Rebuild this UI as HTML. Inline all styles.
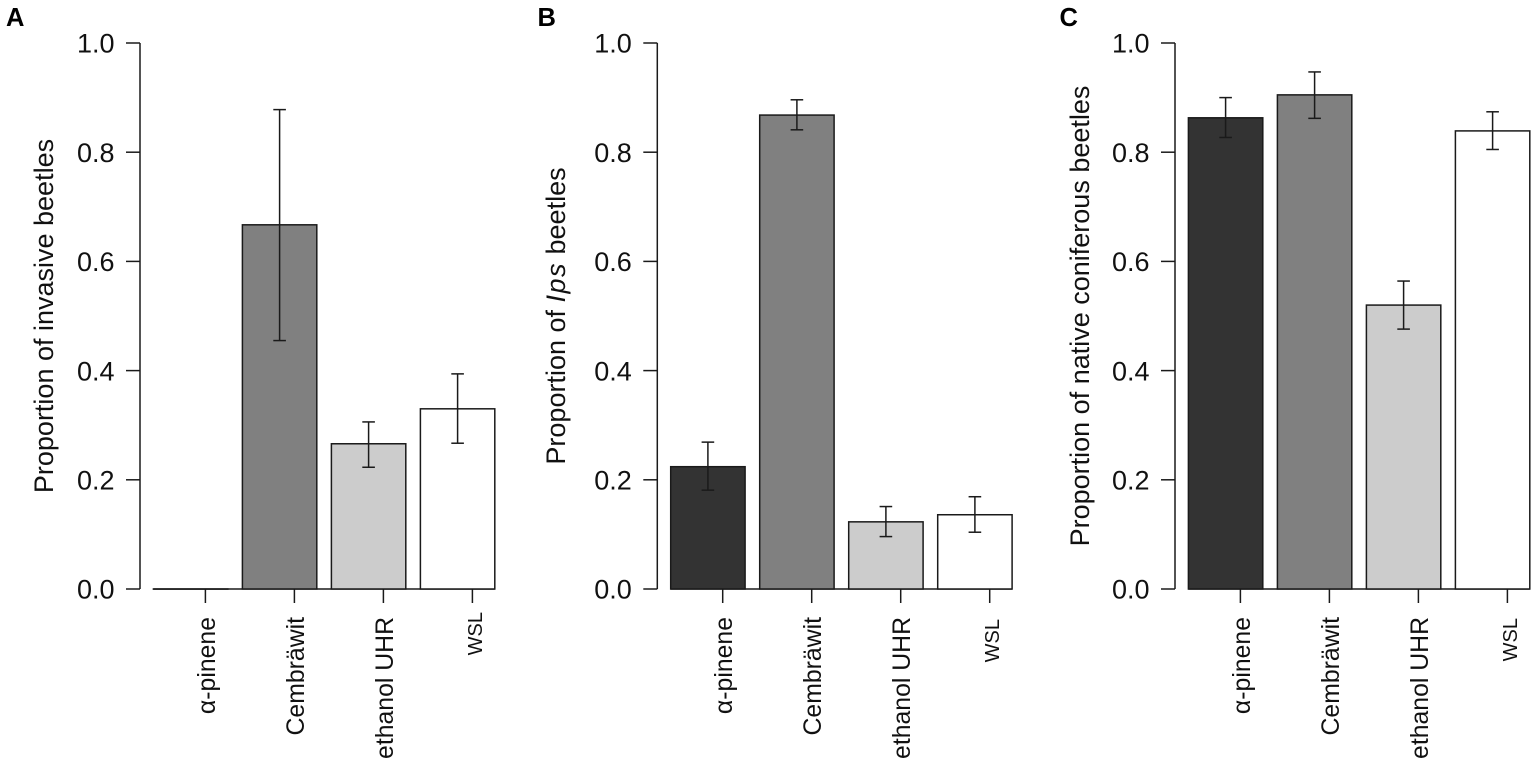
<!DOCTYPE html>
<html lang="en">
<head>
<meta charset="utf-8">
<title>Proportion of beetles by lure</title>
<style>
html,body{margin:0;padding:0;background:#fff;width:1535px;height:763px;overflow:hidden}
svg{display:block}
text{font-family:"Liberation Sans",Arial,sans-serif;fill:#111}
</style>
</head>
<body>
<svg id="chart" xmlns="http://www.w3.org/2000/svg" width="1535" height="763" viewBox="0 0 1535 763">
  <text x="6" y="26" font-size="25.5" font-weight="bold" style="fill:#000">A</text>
  <text x="537.5" y="26" font-size="25.5" font-weight="bold" style="fill:#000">B</text>
  <text x="1059.5" y="26" font-size="25.5" font-weight="bold" style="fill:#000">C</text>
  <text transform="translate(53 316) rotate(-90)" text-anchor="middle" font-size="27">Proportion of invasive beetles</text>
  <text transform="translate(565 316) rotate(-90)" text-anchor="middle" font-size="27">Proportion of <tspan font-style="italic" letter-spacing="1.5">Ips</tspan> beetles</text>
  <text transform="translate(1089 316) rotate(-90)" text-anchor="middle" font-size="27">Proportion of native coniferous beetles</text>
</svg>
<script>
const categories = ['α-pinene', 'Cembräwit', 'ethanol UHR', 'WSL'];
const yTickValues = [0, 0.2, 0.4, 0.6, 0.8, 1];
const yTickLabels = ['0.0', '0.2', '0.4', '0.6', '0.8', '1.0'];

const invasiveValues = [0, 0.667, 0.266, 0.33];
const invasiveUpper = [null, 0.878, 0.306, 0.394];
const invasiveLower = [null, 0.455, 0.223, 0.267];

const ipsValues = [0.224, 0.868, 0.123, 0.136];
const ipsUpper = [0.269, 0.896, 0.151, 0.169];
const ipsLower = [0.181, 0.841, 0.096, 0.104];

const nativeValues = [0.863, 0.905, 0.52, 0.839];
const nativeUpper = [0.9, 0.947, 0.564, 0.874];
const nativeLower = [0.827, 0.862, 0.476, 0.805];

const barFills = ['#333333', '#808080', '#cccccc', '#ffffff'];

const svg = document.getElementById('chart');
const NS = 'http://www.w3.org/2000/svg';
const INK = '#1a1a1a';
const Y_ZERO = 589;
const Y_SPAN = 546;
const BAR_STEP = 89;
const BAR_WIDTH = 74.4;
const HALF_CAP = 6.3;

function yScale(v) { return Y_ZERO - Y_SPAN * v; }
function barLeft(panel, i) { return panel.axisX + 13.4 + BAR_STEP * i; }
function barCenter(panel, i) { return barLeft(panel, i) + BAR_WIDTH / 2; }
function tickX(panel, i) { return panel.axisX + 65.4 + BAR_STEP * i; }

function make(tag, attrs) {
  const el = document.createElementNS(NS, tag);
  Object.keys(attrs).forEach(function (k) { el.setAttribute(k, attrs[k]); });
  return el;
}

function line(x1, y1, x2, y2) {
  return make('line', { x1: x1, y1: y1, x2: x2, y2: y2, stroke: INK, 'stroke-width': 1.5 });
}

function drawPanel(panel) {
  const group = make('g', {});
  
  
  svg.appendChild(group);

  const axis = line(panel.axisX, yScale(0), panel.axisX, yScale(1));
  
  
  group.appendChild(axis);

  yTickValues.forEach(function (v, i) {
    const tick = line(panel.axisX - 14, yScale(v), panel.axisX, yScale(v));
    
    
    group.appendChild(tick);

    const label = make('text', { x: panel.axisX - 25.5, y: yScale(v) + 9.7, 'text-anchor': 'end', 'font-size': 27 });
    
    
    label.textContent = yTickLabels[i];
    group.appendChild(label);
  });

  const baseline = line(barLeft(panel, 0), Y_ZERO, barLeft(panel, categories.length - 1) + BAR_WIDTH, Y_ZERO);
  
  
  group.appendChild(baseline);

  categories.forEach(function (name, i) {
    const bar = make('rect', {
      x: barLeft(panel, i),
      y: yScale(panel.values[i]),
      width: BAR_WIDTH,
      height: Math.max(Y_ZERO - yScale(panel.values[i]), 0.1),
      fill: barFills[i],
      stroke: INK,
      'stroke-width': 1.5
    });
    
    
    group.appendChild(bar);

    if (panel.upper[i] !== null) {
      const cx = barCenter(panel, i);
      const stem = line(cx, yScale(panel.upper[i]), cx, yScale(panel.lower[i]));
      
      
      group.appendChild(stem);

      const capTop = line(cx - HALF_CAP, yScale(panel.upper[i]), cx + HALF_CAP, yScale(panel.upper[i]));
      
      
      group.appendChild(capTop);

      const capBottom = line(cx - HALF_CAP, yScale(panel.lower[i]), cx + HALF_CAP, yScale(panel.lower[i]));
      
      
      group.appendChild(capBottom);
    }

    const xTick = line(tickX(panel, i), Y_ZERO, tickX(panel, i), Y_ZERO + 14);
    
    
    group.appendChild(xTick);

    const isSmall = name === 'WSL';
    const topY = isSmall ? panel.smallTop : 617;
    const xLabel = make('text', {
      transform: 'translate(' + (tickX(panel, i) + 9.5) + ' ' + topY + ') rotate(-90)',
      'text-anchor': 'end',
      'font-size': isSmall ? 20 : 24.8
    });
    
    
    xLabel.textContent = name;
    group.appendChild(xLabel);
  });
}

drawPanel({ id: 'a', axisX: 140, values: invasiveValues, upper: invasiveUpper, lower: invasiveLower, smallTop: 612 });
drawPanel({ id: 'b', axisX: 657.3, values: ipsValues, upper: ipsUpper, lower: ipsLower, smallTop: 619 });
drawPanel({ id: 'c', axisX: 1175, values: nativeValues, upper: nativeUpper, lower: nativeLower, smallTop: 618 });
</script>
</body>
</html>
